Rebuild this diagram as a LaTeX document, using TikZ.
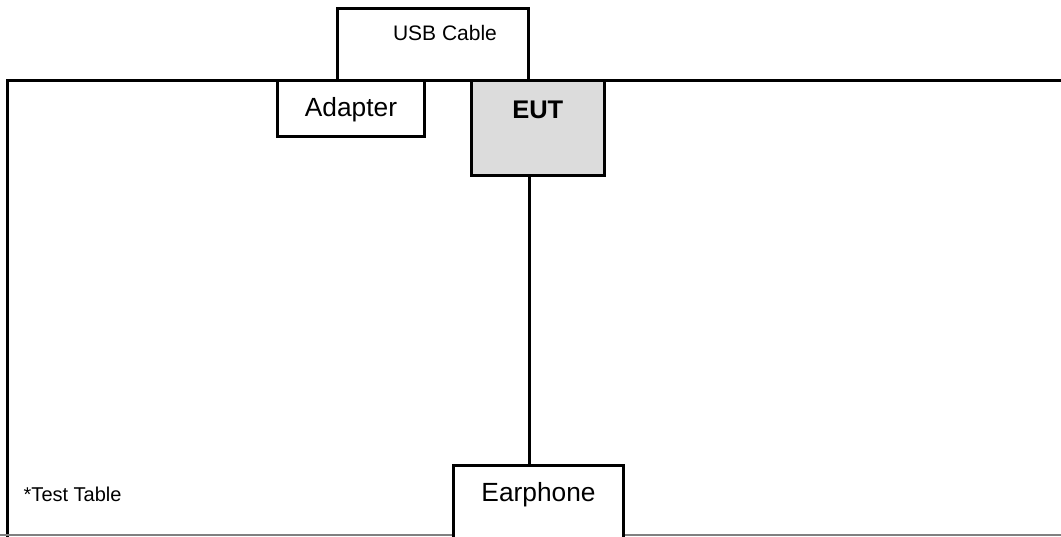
\documentclass[tikz,border=0pt]{standalone}
\usepackage{fontspec}
\setmainfont{Liberation Sans}
\definecolor{eutgray}{HTML}{DCDCDC}
\tikzset{
  box/.style={draw=black, line width=3pt, fill=white, rectangle, inner sep=0pt},
  lbl/.style={inner sep=0pt, font=\fontsize{26.3}{30}\selectfont},
  small/.style={inner sep=0pt, font=\fontsize{21}{24}\selectfont},
  wire/.style={draw=black, line width=3pt}
}
\begin{document}
\begin{tikzpicture}[x=1pt,y=-1pt]
\useasboundingbox (0,0) rectangle (1061,536);
\clip (0,0) rectangle (1061,536);
\fill[white] (0,0) rectangle (1061,536);
% test table
\coordinate (tl) at (7.5,80);
\coordinate (tr) at (1065,80);
\coordinate (bl) at (7.5,540);
\draw[wire, line cap=rect] (tr) -- (tl) -- (bl);
\coordinate (bbl) at (0,535.2);
\coordinate (bbr) at (1061,535.2);
\draw[gray, line width=1.5pt] (bbl) -- (bbr);
% boxes
\node[box, minimum width=190.3, minimum height=71.7] (usb) at (432.85,44.15) {};
\node[small] (usbt) at (445,32.5) {USB Cable};
\node[box, minimum width=147, minimum height=56.7] (adp) at (350.5,108.35) {};
\node[lbl] (adpt) at (351,109.5) {Adapter};
\node[box, fill=eutgray, minimum width=132.3, minimum height=95.7] (eut) at (537.85,127.85) {};
\node[lbl, font=\fontsize{25.5}{30}\selectfont\bfseries] (eutt) at (537.8,109.5) {EUT};
\node[box, minimum width=169.5, minimum height=85] (ear) at (538.25,507.5) {};
\node[lbl] (eart) at (538.5,495) {Earphone};
\node[small, font=\fontsize{20}{24}\selectfont, anchor=west] (tt) at (23.5,494) {*Test Table};
% connector
\draw[wire] (eut.south -| usb.east) -- (ear.north -| usb.east);
\end{tikzpicture}
\end{document}
